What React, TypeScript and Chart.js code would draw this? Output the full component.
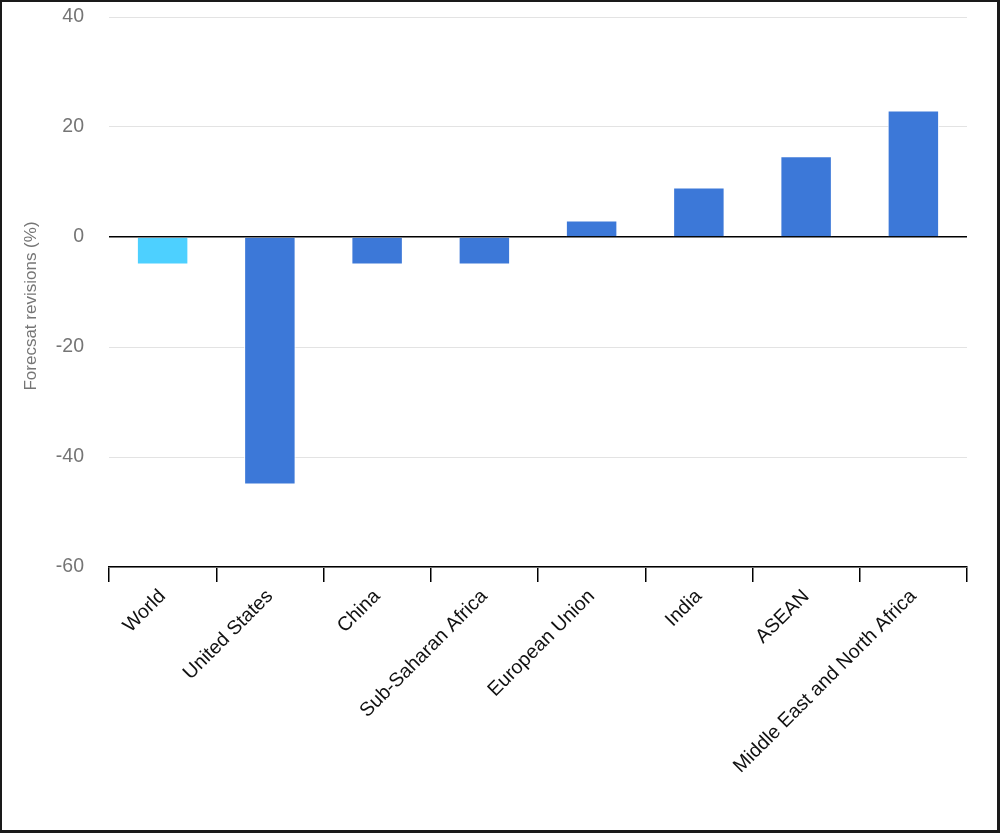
import React, { useEffect, useRef } from "react";
import { Chart, registerables } from "chart.js";

Chart.register(...registerables);

const categories = [
  "World",
  "United States",
  "China",
  "Sub-Saharan Africa",
  "European Union",
  "India",
  "ASEAN",
  "Middle East and North Africa",
];
const revisions = [-5, -45, -5, -5, 3, 9, 14.7, 23];
const barColors = ["#4dd0ff", "#3c78d8", "#3c78d8", "#3c78d8", "#3c78d8", "#3c78d8", "#3c78d8", "#3c78d8"];
const yMin = -60;
const yMax = 40;
const yStep = 20;
const yTitle = "Forecsat revisions (%)";

const W = 1000;
const H = 833;

export default function App() {
  const ref = useRef<HTMLCanvasElement | null>(null);

  useEffect(() => {
    document.body.style.margin = "0";
    const canvas = ref.current;
    if (!canvas) return;

    const titlePlugin = {
      id: "yTitlePlugin",
      afterDraw(chart: any) {
        const { ctx } = chart;
        ctx.save();
        ctx.translate(31, 306);
        ctx.rotate(-Math.PI / 2);
        ctx.font = "17px 'Liberation Sans', Arial, sans-serif";
        ctx.fillStyle = "#757575";
        ctx.textAlign = "center";
        ctx.textBaseline = "middle";
        ctx.fillText(yTitle, 0, 0);
        ctx.restore();
      },
    };

    const chart = new Chart(canvas, {
      type: "bar",
      data: {
        labels: categories,
        datasets: [
          {
            data: revisions,
            backgroundColor: barColors,
            borderColor: "#ffffff",
            borderWidth: 1,
            barPercentage: 0.48,
            categoryPercentage: 1,
          },
        ],
      },
      options: {
        responsive: false,
        animation: false,
        devicePixelRatio: 1,
        layout: { padding: { top: 17, right: 33, bottom: 0, left: 0 } },
        plugins: {
          legend: { display: false },
          tooltip: { enabled: false },
          title: { display: false },
        },
        scales: {
          x: {
            offset: true,
            afterFit(scale: any) {
              scale.height = H - 567;
              scale.paddingTop = 0;
              scale.paddingBottom = 0;
            },
            grid: {
              offset: true,
              drawOnChartArea: false,
              drawTicks: true,
              tickLength: 15,
              color: "#000000",
              lineWidth: 1.5,
            },
            border: { display: true, color: "#000000", width: 1.5 },
            ticks: {
              autoSkip: false,
              maxRotation: 45,
              minRotation: 45,
              padding: 3,
              color: "#111111",
              font: { family: "'Liberation Sans', Arial, sans-serif", size: 19.6 },
            },
          },
          y: {
            min: yMin,
            max: yMax,
            afterFit(scale: any) {
              scale.width = 109;
              scale.paddingTop = 0;
              scale.paddingBottom = 0;
            },
            grid: {
              drawTicks: false,
              color: (c: any) => (c.tick && c.tick.value === 0 ? "#000000" : "#e3e3e3"),
              lineWidth: (c: any) => (c.tick && c.tick.value === 0 ? 1.5 : 1),
            },
            border: { display: false },
            title: { display: false },
            ticks: {
              stepSize: yStep,
              padding: 25,
              color: "#757575",
              font: { family: "'Liberation Sans', Arial, sans-serif", size: 19.5 },
            },
          },
        },
      },
      plugins: [titlePlugin],
    });

    return () => chart.destroy();
  }, []);

  return (
    <div style={{ position: "fixed", left: 0, top: 0, width: W, height: H, background: "#fff" }}>
      <canvas ref={ref} width={W} height={H} style={{ position: "absolute", left: 0, top: 0, width: W, height: H }} />
      <div
        style={{
          position: "absolute",
          left: 0,
          top: 0,
          width: W,
          height: H,
          boxSizing: "border-box",
          borderStyle: "solid",
          borderColor: "#1a1a1a",
          borderWidth: "2px 3px 3px 2px",
          pointerEvents: "none",
        }}
      />
    </div>
  );
}
